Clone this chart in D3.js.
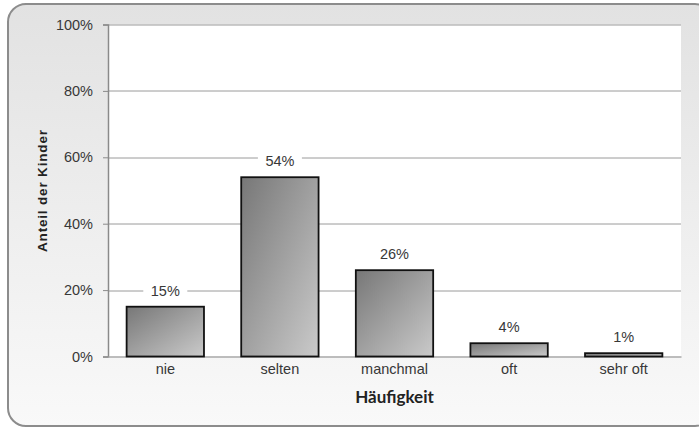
<!DOCTYPE html>
<html>
<head>
<meta charset="utf-8">
<script src="https://cdn.jsdelivr.net/npm/d3@7"></script>
<style>
  body { margin: 0; background: #fff; }
  svg { display: block; }
</style>
</head>
<body>
<div id="chart"></div>
<script>
// data
var categories = ["nie", "selten", "manchmal", "oft", "sehr oft"];
var values = [15, 54, 26, 4, 1];
var yTicks = [0, 20, 40, 60, 80, 100];

var W = 699, H = 428;
var margin = {top: 24.5, right: 18, bottom: 71.5, left: 108};
var width = W - margin.left - margin.right,
    height = H - margin.top - margin.bottom;

var svg = d3.select("#chart").append("svg")
  .attr("width", W)
  .attr("height", H);

var defs = svg.append("defs");

// background gradient of the outer frame
var bg = defs.append("linearGradient")
  .attr("id", "bg").attr("x1", 0).attr("y1", 0).attr("x2", 0).attr("y2", 1);
bg.append("stop").attr("offset", "0%").attr("stop-color", "#e2e2e2");
bg.append("stop").attr("offset", "100%").attr("stop-color", "#f9f9f9");

// bar gradient, dark top-left to light bottom-right
var bg2 = defs.append("linearGradient")
  .attr("id", "bar").attr("x1", 0).attr("y1", 0).attr("x2", 1).attr("y2", 1);
bg2.append("stop").attr("offset", "0%").attr("stop-color", "#777777");
bg2.append("stop").attr("offset", "100%").attr("stop-color", "#cacaca");

svg.append("rect")
  .attr("x", 8).attr("y", 4)
  .attr("width", 705).attr("height", 422)
  .attr("rx", 18).attr("ry", 18)
  .attr("fill", "url(#bg)")
  .attr("stroke", "#8c8c8c")
  .attr("stroke-width", 2);

var g = svg.append("g")
  .attr("transform", "translate(" + margin.left + "," + margin.top + ")");

// plot area
g.append("rect")
  .attr("width", width).attr("height", height)
  .attr("fill", "#fff");

var x = d3.scaleBand()
  .domain(categories)
  .range([0, width])
  .paddingInner(0.325)
  .paddingOuter(0.1625);

var y = d3.scaleLinear()
  .domain([0, 100])
  .range([height, 0]);

var lblFont = "Liberation Sans, Arial, sans-serif";

// gridlines
g.selectAll(".grid")
  .data(yTicks.slice(1))
  .enter().append("line")
    .attr("class", "grid")
    .attr("x1", 0).attr("x2", width)
    .attr("y1", function(d) { return Math.round(y(d)) + 0.5; })
    .attr("y2", function(d) { return Math.round(y(d)) + 0.5; })
    .attr("stroke", "#9a9a9a")
    .attr("stroke-width", 1);

// y axis
var yAxis = g.append("g")
  .call(d3.axisLeft(y).tickValues(yTicks).tickSize(5).tickPadding(10)
    .tickFormat(function(d) { return d + "%"; }));
yAxis.select(".domain").attr("stroke", "#8a8a8a").attr("stroke-width", 1.5);
yAxis.selectAll(".tick line").attr("stroke", "#8a8a8a");
yAxis.selectAll("text")
  .attr("font-family", lblFont)
  .attr("font-size", 14.5)
  .attr("fill", "#383838");

// x axis
var xAxis = g.append("g")
  .attr("transform", "translate(0," + height + ")")
  .call(d3.axisBottom(x).tickSize(0).tickPadding(7));
xAxis.select(".domain").attr("stroke", "#a8a8a8").attr("stroke-width", 1.5);
xAxis.selectAll("text")
  .attr("font-family", lblFont)
  .attr("font-size", 14.5)
  .attr("fill", "#383838");

// bars
g.selectAll(".bar")
  .data(values)
  .enter().append("rect")
    .attr("class", "bar")
    .attr("x", function(d, i) { return x(categories[i]); })
    .attr("y", function(d) { return y(d); })
    .attr("width", x.bandwidth())
    .attr("height", function(d) { return y(0) - y(d); })
    .attr("fill", "url(#bar)")
    .attr("stroke", "#111")
    .attr("stroke-width", 1.8);

// value labels with white backing
var lab = g.selectAll(".lab")
  .data(values)
  .enter().append("g")
    .attr("class", "lab")
    .attr("transform", function(d, i) {
      return "translate(" + (x(categories[i]) + x.bandwidth() / 2) + "," + (y(d) - 11) + ")";
    });
lab.append("rect")
  .attr("x", -22).attr("y", -13)
  .attr("width", 44).attr("height", 17)
  .attr("fill", "#fff");
lab.append("text")
  .attr("text-anchor", "middle")
  .attr("font-family", lblFont)
  .attr("font-size", 14.5)
  .attr("fill", "#383838")
  .text(function(d) { return d + "%"; });

// axis titles
svg.append("text")
  .attr("transform", "translate(47,191) rotate(-90)")
  .attr("text-anchor", "middle")
  .attr("font-family", lblFont)
  .attr("font-weight", "bold")
  .attr("font-size", 13.5)
  .attr("textLength", 122)
  .attr("lengthAdjust", "spacing")
  .attr("fill", "#222")
  .text("Anteil der Kinder");

svg.append("text")
  .attr("x", margin.left + width / 2)
  .attr("y", 403)
  .attr("text-anchor", "middle")
  .attr("font-family", "Lato, Open Sans, sans-serif")
  .attr("font-weight", "bold")
  .attr("font-size", 17)
  .attr("fill", "#222")
  .text("Häufigkeit");
</script>
</body>
</html>
